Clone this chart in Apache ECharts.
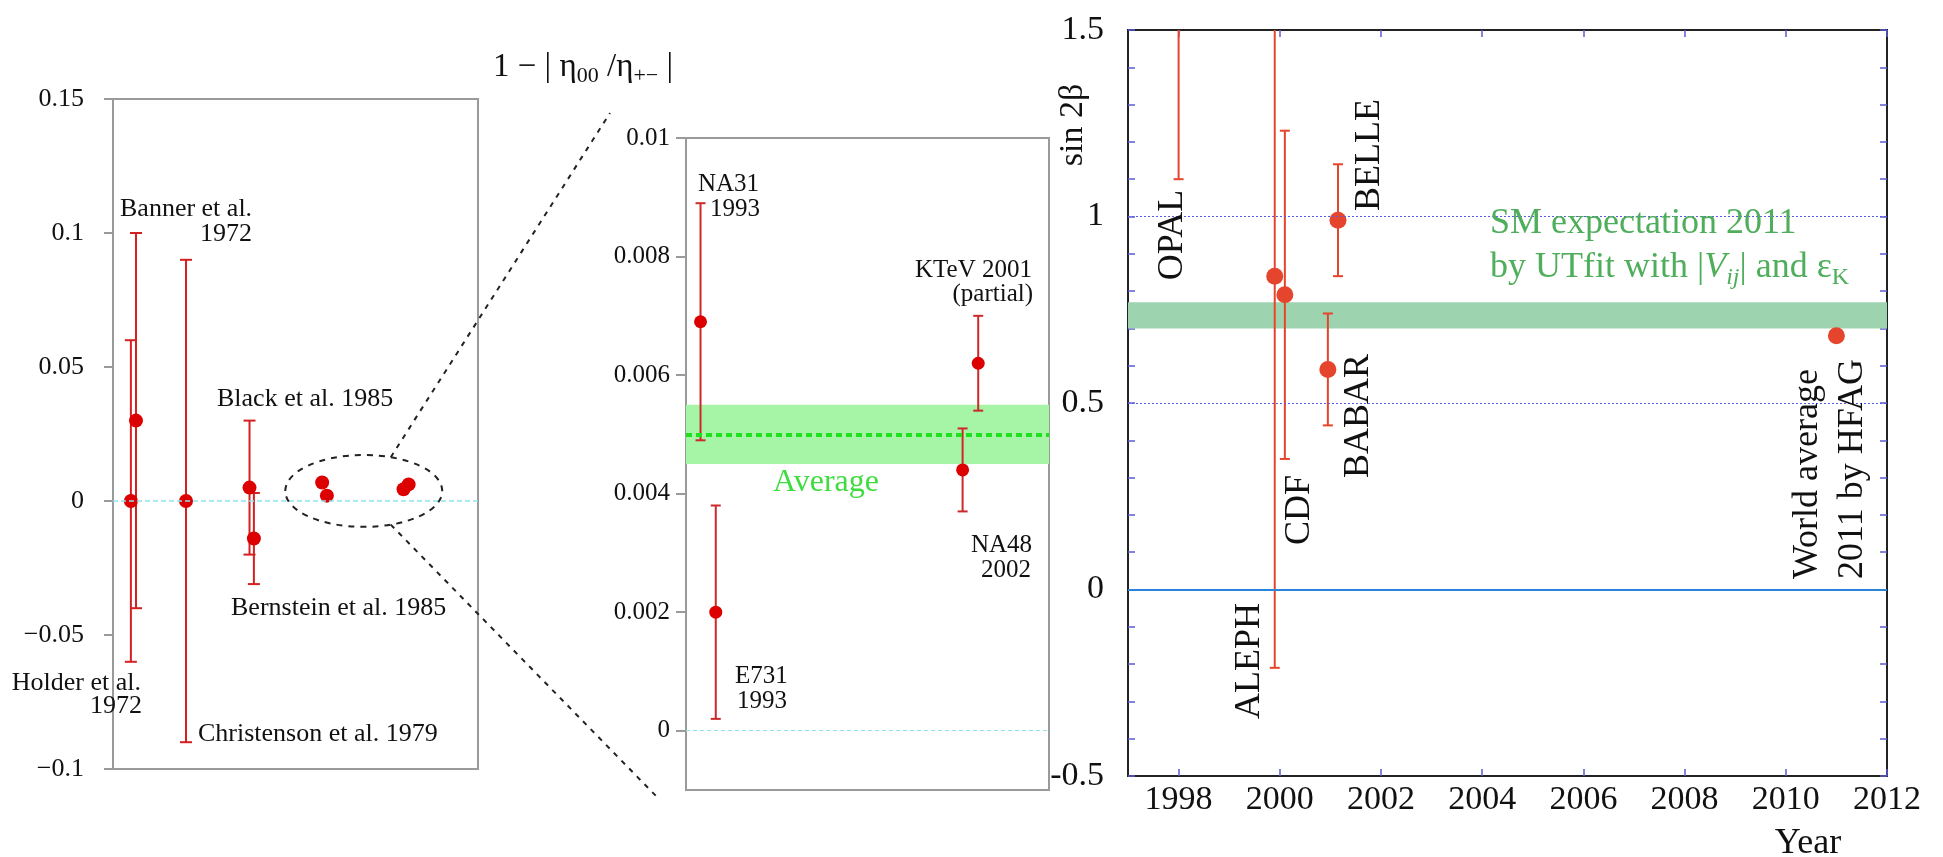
<!DOCTYPE html>
<html>
<head>
<meta charset="utf-8">
<script src="https://cdn.jsdelivr.net/npm/echarts@6/dist/echarts.min.js"></script>
<style>
  html, body { margin: 0; background: #fff; }
  #box { width: 1943px; height: 857px; }
</style>
</head>
<body>
<div id="box"></div>
<script>
// ---- left panel: 1 - |eta00/eta+-| history (x is just a position along the panel)
var leftPos  = [4.9, 6.3, 20.0, 37.4, 38.6, 57.3, 58.6, 79.6, 81.0];
var leftVal  = [0, 0.030, 0, 0.005, -0.014, 0.0069, 0.0020, 0.0044, 0.0062];
var leftLow  = [-0.06, -0.04, -0.09, -0.02, -0.031, null, null, null, null];
var leftHigh = [0.06, 0.10, 0.09, 0.03, 0.003, null, null, null, null];
var zoomEllipse = [68.7, 0.00375, 21.5, 0.0134]; // centre x, centre y, half width, half height

// ---- middle panel: zoom on the recent measurements
var midNames = ['NA31', 'E731', 'NA48', 'KTeV'];
var midPos  = [4.0, 8.2, 76.2, 80.5];
var midVal  = [0.0069, 0.0020, 0.0044, 0.0062];
var midLow  = [0.0049, 0.0002, 0.0037, 0.0054];
var midHigh = [0.0089, 0.0038, 0.0051, 0.0070];
var midAvg = 0.005;
var midBand = [0.0045, 0.0055];
var midTicks = [0, 0.002, 0.004, 0.006, 0.008, 0.01];

// ---- right panel: sin 2beta vs year
var expNames = ['OPAL', 'ALEPH', 'CDF', 'BABAR', 'BELLE', 'World average'];
var expYear = [1998, 1999.9, 2000.1, 2000.95, 2001.15, 2011];
var expVal  = [3.2, 0.84, 0.79, 0.59, 0.99, 0.68];
var expLow  = [1.1, -0.21, 0.35, 0.44, 0.84, null];
var expHigh = [5.0, 1.66, 1.23, 0.74, 1.14, null];
var smBand = [0.70, 0.77];
var yearTicks = [1998, 2000, 2002, 2004, 2006, 2008, 2010, 2012];

var serif = 'Liberation Serif';
var chart = echarts.init(document.getElementById('box'));

function errData(pos, lo, hi) {
    var out = [];
    pos.forEach(function (x, i) {
        if (lo[i] != null) out.push([x, lo[i], hi[i]]);
    });
    return out;
}
function ptData(pos, val) {
    return pos.map(function (x, i) { return [x, val[i]]; });
}

// vertical error bar with caps, clipped to the grid
function errBars(color, lw, capHalf) {
    return function (params, api) {
        var cs = params.coordSys;
        var x = api.value(0), lo = api.value(1), hi = api.value(2);
        var p1 = api.coord([x, hi]), p2 = api.coord([x, lo]);
        var top = cs.y, bot = cs.y + cs.height;
        var st = { stroke: color, lineWidth: lw };
        var kids = [{
            type: 'line',
            shape: { x1: p1[0], y1: Math.max(p1[1], top), x2: p2[0], y2: Math.min(p2[1], bot) },
            style: st
        }];
        if (p1[1] >= top) kids.push({ type: 'line', shape: { x1: p1[0] - capHalf, y1: p1[1], x2: p1[0] + capHalf, y2: p1[1] }, style: st });
        if (p2[1] <= bot) kids.push({ type: 'line', shape: { x1: p2[0] - capHalf, y1: p2[1], x2: p2[0] + capHalf, y2: p2[1] }, style: st });
        return { type: 'group', children: kids };
    };
}

var grayAxis = { onZero: false, lineStyle: { color: '#9a9a9a', width: 2 } };
var darkAxis = { onZero: false, lineStyle: { color: '#222', width: 2 } };
var blueTick = { color: '#5b5bd6', width: 1.5 };

var option = {
    animation: false,
    textStyle: { fontFamily: serif },
    grid: [
        { left: 113, top: 99, width: 365, height: 670, show: true, borderColor: '#9a9a9a', borderWidth: 2 },
        { left: 686, top: 138, width: 363, height: 652, show: true, borderColor: '#9a9a9a', borderWidth: 2 },
        { left: 1128, top: 30, width: 759, height: 746, show: true, borderColor: '#222', borderWidth: 2 }
    ],
    xAxis: [
        { gridIndex: 0, type: 'value', min: 0, max: 100, show: false },
        { gridIndex: 1, type: 'value', min: 0, max: 100, show: false },
        {
            gridIndex: 2, type: 'value', min: 1997, max: 2012,
            axisLine: darkAxis,
            axisTick: { inside: true, length: 7, customValues: yearTicks, lineStyle: blueTick },
            axisLabel: { customValues: yearTicks, fontSize: 34, color: '#111', margin: 7, fontFamily: serif,
                formatter: function (v) { return String(v); } },
            splitLine: { show: false }
        },
        {
            gridIndex: 2, type: 'value', position: 'top', min: 1997, max: 2012,
            axisLine: darkAxis,
            axisTick: { inside: true, length: 7, customValues: yearTicks, lineStyle: blueTick },
            axisLabel: { show: false },
            splitLine: { show: false }
        }
    ],
    yAxis: [
        {
            gridIndex: 0, type: 'value', min: -0.1, max: 0.15, interval: 0.05,
            axisLine: grayAxis,
            axisTick: { length: 9, lineStyle: { color: '#9a9a9a', width: 2 } },
            axisLabel: { fontSize: 26, color: '#111', margin: 29, fontFamily: serif,
                formatter: function (v) {
                    var n = +v.toFixed(4);
                    return n < 0 ? '\u2212' + Math.abs(n) : String(n);
                } },
            splitLine: { show: false }
        },
        {
            gridIndex: 1, type: 'value', min: -0.001, max: 0.01,
            axisLine: grayAxis,
            axisTick: { length: 10, customValues: midTicks, lineStyle: { color: '#9a9a9a', width: 2 } },
            axisLabel: { customValues: midTicks, fontSize: 25, color: '#111', margin: 16, fontFamily: serif,
                formatter: function (v) { return String(+v.toFixed(4)); } },
            splitLine: { show: false }
        },
        {
            gridIndex: 2, type: 'value', min: -0.5, max: 1.5, interval: 0.5,
            axisLine: darkAxis,
            axisTick: { inside: true, length: 7, lineStyle: blueTick },
            minorTick: { show: true, splitNumber: 5, length: 7, lineStyle: blueTick },
            axisLabel: { fontSize: 34, color: '#111', margin: 24, fontFamily: serif, padding: [0, 0, 10, 0] },
            splitLine: { show: false }
        },
        {
            gridIndex: 2, type: 'value', position: 'right', min: -0.5, max: 1.5, interval: 0.5,
            axisLine: darkAxis,
            axisTick: { inside: true, length: 7, lineStyle: blueTick },
            minorTick: { show: true, splitNumber: 5, length: 7, lineStyle: blueTick },
            axisLabel: { show: false },
            splitLine: { show: false }
        }
    ],
    series: [
        // left
        {
            type: 'line', xAxisIndex: 0, yAxisIndex: 0, data: [], z: 1,
            markLine: { symbol: 'none', silent: true, precision: 6, label: { show: false },
                lineStyle: { color: '#8fe3ec', width: 1.5, type: [5, 3] },
                data: [{ yAxis: 0 }] }
        },
        {
            type: 'custom', xAxisIndex: 0, yAxisIndex: 0, z: 3,
            encode: { x: 0, y: [1, 2] },
            renderItem: errBars('#d42020', 2, 6),
            data: errData(leftPos, leftLow, leftHigh)
        },
        {
            type: 'scatter', xAxisIndex: 0, yAxisIndex: 0, z: 4,
            symbolSize: 14, itemStyle: { color: '#dd0000', opacity: 1 },
            data: ptData(leftPos, leftVal)
        },
        // middle
        {
            type: 'line', xAxisIndex: 1, yAxisIndex: 1, data: [], z: 1,
            markArea: { silent: true, itemStyle: { color: '#a6f5a6' },
                data: [[{ yAxis: midBand[0] }, { yAxis: midBand[1] }]] },
            markLine: { symbol: 'none', silent: true, precision: 6, label: { show: false },
                data: [
                    { yAxis: 0, lineStyle: { color: '#8fe3ec', width: 1.2, type: [4, 3] } },
                    { yAxis: midAvg, lineStyle: { color: '#1ee01e', width: 4, type: [6, 4] } }
                ] }
        },
        {
            type: 'custom', xAxisIndex: 1, yAxisIndex: 1, z: 3,
            encode: { x: 0, y: [1, 2] },
            renderItem: errBars('#cc2a2a', 2, 5),
            data: errData(midPos, midLow, midHigh)
        },
        {
            type: 'scatter', xAxisIndex: 1, yAxisIndex: 1, z: 4,
            symbolSize: 13, itemStyle: { color: '#dd0000', opacity: 1 },
            data: ptData(midPos, midVal)
        },
        // right
        {
            type: 'line', xAxisIndex: 2, yAxisIndex: 2, data: [], z: 1,
            markArea: { silent: true, itemStyle: { color: '#9ed3b0' },
                data: [[{ yAxis: smBand[0] }, { yAxis: smBand[1] }]] },
            markLine: { symbol: 'none', silent: true, precision: 6, label: { show: false },
                data: [
                    { yAxis: 1, lineStyle: { color: '#5a5ae6', width: 1, type: [2, 2] } },
                    { yAxis: 0.5, lineStyle: { color: '#5a5ae6', width: 1, type: [2, 2] } },
                    { yAxis: 0, lineStyle: { color: '#2b84d9', width: 2, type: 'solid' } }
                ] }
        },
        {
            type: 'custom', xAxisIndex: 2, yAxisIndex: 2, z: 3,
            encode: { x: 0, y: [1, 2] },
            renderItem: errBars('#e5452d', 2, 5),
            data: errData(expYear, expLow, expHigh)
        },
        {
            type: 'scatter', xAxisIndex: 2, yAxisIndex: 2, z: 4, clip: true,
            symbolSize: 17, itemStyle: { color: '#e5452d', opacity: 1 },
            data: ptData(expYear, expVal)
        }
    ]
};
chart.setOption(option);

// ---- annotations
function txt(s, x, y, o) {
    o = o || {};
    var st = {
        text: s, fill: o.color || '#111', fontFamily: serif, fontSize: o.size || 26,
        align: o.align || 'left', verticalAlign: 'middle',
        textAlign: o.align || 'left', textVerticalAlign: 'middle'
    };
    if (o.rich) st.rich = o.rich;
    return { type: 'text', x: x, y: y, z: 100, rotation: o.rot || 0, style: st, silent: true };
}
var up = Math.PI / 2;
var green = '#4fae5c';
var g = [
    // left
    txt('Banner et al.', 120, 209),
    txt('1972', 252, 234, { align: 'right' }),
    txt('Black et al. 1985', 217, 399),
    txt('Bernstein et al. 1985', 231, 608),
    txt('Christenson et al. 1979', 198, 734),
    txt('Holder et al.', 141, 683, { align: 'right' }),
    txt('1972', 142, 706, { align: 'right' }),
    // title
    txt('{n|1 \u2212 | \u03b7}{s|00}{n| /\u03b7}{s|+\u2212}{n| |}', 493, 67, {
        rich: {
            n: { fontSize: 33, lineHeight: 40, fontFamily: serif, color: '#111' },
            s: { fontSize: 22, lineHeight: 16, verticalAlign: 'bottom', fontFamily: serif, color: '#111' }
        }
    }),
    // middle
    txt('NA31', 698, 184, { size: 25 }),
    txt('1993', 710, 209, { size: 25 }),
    txt('KTeV 2001', 1032, 270, { align: 'right', size: 25 }),
    txt('(partial)', 1033, 294, { align: 'right', size: 25 }),
    txt('NA48', 1032, 545, { align: 'right', size: 25 }),
    txt('2002', 1031, 570, { align: 'right', size: 25 }),
    txt('E731', 735, 676, { size: 25 }),
    txt('1993', 737, 701, { size: 25 }),
    txt('Average', 773, 483, { color: '#3fdc3f', size: 32 }),
    // right
    txt('sin 2\u03b2', 1073, 125, { align: 'center', size: 34, rot: up }),
    txt('OPAL', 1173, 235, { align: 'center', size: 36, rot: up }),
    txt('BELLE', 1370, 155, { align: 'center', size: 36, rot: up }),
    txt('ALEPH', 1250, 661, { align: 'center', size: 36, rot: up }),
    txt('CDF', 1300, 510, { align: 'center', size: 36, rot: up }),
    txt('BABAR', 1359, 416, { align: 'center', size: 36, rot: up }),
    txt('World average', 1808, 579, { size: 36, rot: up }),
    txt('2011 by HFAG', 1853, 579, { size: 36, rot: up }),
    txt('SM expectation 2011', 1490, 224, { color: green, size: 36 }),
    txt('{g|by UTfit with |}{gi|V}{gsi|ij}{g|| and \u03b5}{gs|K}', 1490, 268, {
        color: green, size: 36,
        rich: {
            g: { fontSize: 36, lineHeight: 44, fontFamily: serif, color: green },
            gi: { fontSize: 36, lineHeight: 44, fontFamily: serif, fontStyle: 'italic', color: green },
            gsi: { fontSize: 24, lineHeight: 18, verticalAlign: 'bottom', fontFamily: serif, fontStyle: 'italic', color: green },
            gs: { fontSize: 24, lineHeight: 18, verticalAlign: 'bottom', fontFamily: serif, color: green }
        }
    }),
    txt('Year', 1808, 844, { align: 'center', size: 36 })
];

// dashed zoom ellipse + connector lines
var c = chart.convertToPixel({ gridIndex: 0 }, [zoomEllipse[0], zoomEllipse[1]]);
var e = chart.convertToPixel({ gridIndex: 0 }, [zoomEllipse[0] + zoomEllipse[2], zoomEllipse[1] - zoomEllipse[3]]);
var rx = e[0] - c[0], ry = e[1] - c[1];
var nx = c[0] + 27;
var ny = ry * Math.sqrt(1 - Math.pow(27 / rx, 2));
var tl = chart.convertToPixel({ gridIndex: 1 }, [0, 0.01]);
var bl = chart.convertToPixel({ gridIndex: 1 }, [0, -0.001]);
var dash = { stroke: '#222', lineWidth: 2, lineDash: [5, 6], fill: null };
g.push({ type: 'ellipse', z: 90, silent: true, shape: { cx: c[0], cy: c[1], rx: rx, ry: ry },
    style: { stroke: '#222', lineWidth: 2, lineDash: [6, 6], fill: 'transparent' } });
g.push({ type: 'line', z: 90, silent: true, shape: { x1: nx, y1: c[1] - ny, x2: tl[0] - 76, y2: tl[1] - 25 }, style: dash });
g.push({ type: 'line', z: 90, silent: true, shape: { x1: nx, y1: c[1] + ny, x2: bl[0] - 28, y2: bl[1] + 8 }, style: dash });

chart.setOption({ graphic: g });
</script>
</body>
</html>
